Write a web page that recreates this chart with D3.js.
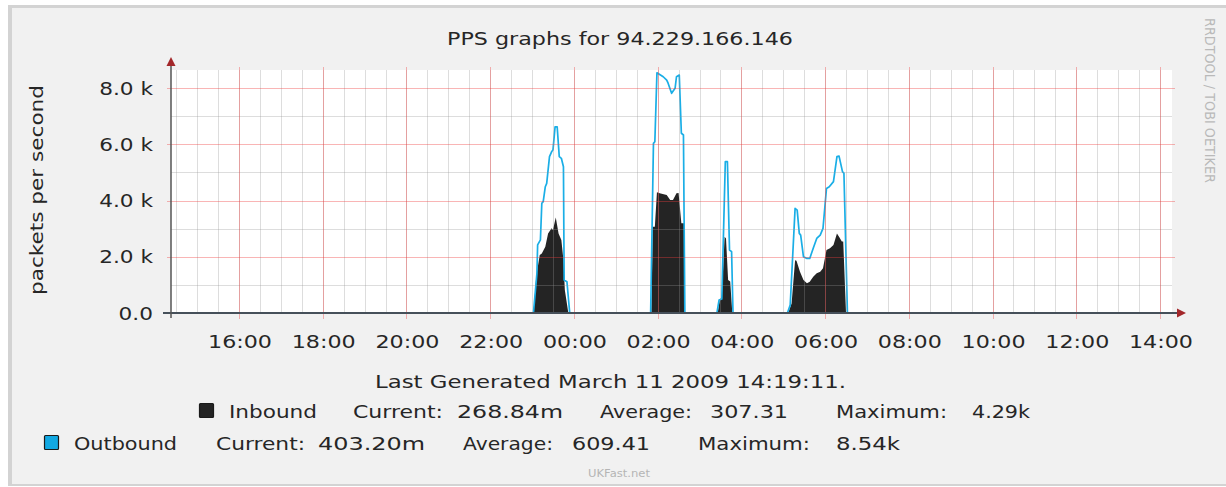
<!DOCTYPE html>
<html><head><meta charset="utf-8">
<script src="https://cdn.jsdelivr.net/npm/d3@7/dist/d3.min.js"></script>
<style>
body{margin:0;background:#fff}
svg{display:block}
text{font-family:"DejaVu Sans",sans-serif}
</style>
</head><body>
<svg id="chart" width="1226" height="487"></svg>
<script>
// ---------- data ----------
const title = "PPS graphs for 94.229.166.146";
const yTickValues = [0, 2000, 4000, 6000, 8000];
const yTickLabels = ["0.0", "2.0 k", "4.0 k", "6.0 k", "8.0 k"];
const yAxisTitle = "packets per second";
const footerText = "Last Generated March 11 2009 14:19:11.";
const sideText = "RRDTOOL / TOBI OETIKER";
const creditText = "UKFast.net";

const outTimes = ["10 14:22","10 23:02","10 23:07","10 23:08","10 23:12","10 23:14","10 23:16","10 23:19","10 23:21","10 23:25","10 23:28","10 23:30","10 23:33","10 23:36","10 23:39","10 23:42","10 23:45","10 23:46","10 23:50","10 23:54",
  "11 01:50","11 01:54","11 01:56","11 01:59","11 02:08","11 02:13","11 02:15","11 02:20","11 02:25","11 02:27","11 02:31","11 02:34","11 02:37","11 02:39",
  "11 03:25","11 03:28","11 03:32","11 03:37","11 03:40","11 03:43","11 03:46","11 03:48",
  "11 05:06","11 05:10","11 05:17","11 05:20","11 05:23","11 05:25","11 05:29","11 05:34","11 05:38","11 05:43","11 05:48","11 05:53","11 05:57","11 06:02","11 06:06","11 06:12","11 06:17","11 06:20","11 06:25","11 06:27","11 06:32","11 14:18"];
const outValues = [0,0,1410,2420,2600,3900,3960,4490,4610,5560,5730,5800,6620,6620,5560,5500,5200,1170,1110,0,
  0,6030,6090,8540,8400,8280,8170,7810,7990,8400,8460,6390,6330,0,
  0,460,500,5380,5380,2240,2180,0,
  0,280,3720,3660,2830,2770,2000,1940,1940,2300,2650,2770,3010,4430,4490,4670,5560,5580,5020,4970,0,0];

const inTimes = ["10 14:22","10 23:02","10 23:06","10 23:11","10 23:14","10 23:19","10 23:23","10 23:28","10 23:30","10 23:34","10 23:38","10 23:42","10 23:45","10 23:47","10 23:52",
  "11 01:51","11 01:53","11 01:56","11 01:59","11 02:03","11 02:13","11 02:18","11 02:22","11 02:27","11 02:30","11 02:34","11 02:38","11 02:39",
  "11 03:26","11 03:29","11 03:32","11 03:36","11 03:38","11 03:41","11 03:44","11 03:47",
  "11 05:07","11 05:12","11 05:17","11 05:19","11 05:24","11 05:29","11 05:34","11 05:38","11 05:43","11 05:48","11 05:53","11 05:57","11 06:02","11 06:07","11 06:12","11 06:17","11 06:20","11 06:24","11 06:26","11 06:30","11 14:18"];
const inValues = [0,0,1290,2060,2120,2360,2830,3010,2950,3400,2830,2600,1880,820,0,
  0,3070,3070,4290,4255,4200,4020,4020,4255,4270,3190,3190,0,
  0,460,580,2710,2650,1170,1120,0,
  0,340,1880,1860,1470,1170,1060,1110,1290,1410,1470,1590,2240,2300,2420,2830,2710,2540,2540,0,0];

const seriesNames = ["Inbound", "Outbound"];
const seriesCurrent = ["268.84m", "403.20m"];
const seriesAverage = ["307.31", "609.41"];
const seriesMaximum = ["4.29k", "8.54k"];
const statLabels = ["Current:", "Average:", "Maximum:"];

// ---------- helpers ----------
const parse = d3.timeParse("%Y-%m-%d %H:%M");
const toDate = s => parse("2009-03-" + s);
const outData = outTimes.map((t, i) => ({t: toDate(t), v: outValues[i]}));
const inData = inTimes.map((t, i) => ({t: toDate(t), v: inValues[i]}));

const svg = d3.select("#chart");
const TXT = "#262626";

function txt(g, str, x, y, o = {}) {
  const el = g.append("text").text(str)
    .attr("x", x).attr("y", y)
    .attr("font-size", o.size || 18)
    .attr("fill", o.color || TXT);
  let w = o.width;
  if (!w) w = el.node().getComputedTextLength() * (o.stretch || 1.2);
  el.attr("textLength", w).attr("lengthAdjust", "spacingAndGlyphs");
  const anchor = o.anchor || "start";
  if (anchor === "middle") el.attr("x", x - w / 2);
  else if (anchor === "end") el.attr("x", x - w);
  if (o.transform) el.attr("transform", o.transform);
  return el;
}

// ---------- frame ----------
svg.append("rect").attr("x", 8).attr("y", 5).attr("width", 1240).attr("height", 481).attr("fill", "#d3d3d3");
svg.append("rect").attr("x", 12).attr("y", 8).attr("width", 1240).attr("height", 476).attr("fill", "#f1f1f1");

// ---------- scales ----------
const L = 171, R = 1172, T = 70, B = 313;
const x = d3.scaleTime()
  .domain([new Date(2009, 2, 10, 14, 22, 32), new Date(2009, 2, 11, 14, 17, 12)])
  .range([L, R]);
const y = d3.scaleLinear().domain([0, 8000]).range([B, 88]);

// plot background
svg.append("rect").attr("x", L).attr("y", T).attr("width", R - L).attr("height", B - T).attr("fill", "#fff");

svg.append("clipPath").attr("id", "clip").append("rect")
  .attr("x", L).attr("y", T - 3).attr("width", R - L).attr("height", B - T + 3);

const plot = svg.append("g").attr("clip-path", "url(#clip)");

// data
plot.append("path").datum(inData)
  .attr("fill", "#242424")
  .attr("d", d3.area().x(d => x(d.t)).y0(y(0)).y1(d => y(d.v)));
plot.append("path").datum(outData)
  .attr("fill", "none").attr("stroke", "#1aaee6").attr("stroke-width", 1.7)
  .attr("stroke-linejoin", "round")
  .attr("d", d3.line().x(d => x(d.t)).y(d => y(d.v)));

// grid (drawn over data, semi-transparent)
const grid = svg.append("g");
const minorX = x.ticks(d3.timeMinute.every(30));
grid.selectAll(".mx").data(minorX).join("line")
  .attr("x1", d => Math.round(x(d)) + 0.5).attr("x2", d => Math.round(x(d)) + 0.5)
  .attr("y1", T).attr("y2", B)
  .attr("stroke", "rgba(150,150,150,0.32)").attr("stroke-width", 1);
const minorY = d3.range(1000, 8001, 1000).filter(v => v % 2000 !== 0);
grid.selectAll(".my").data(minorY).join("line")
  .attr("x1", L).attr("x2", R)
  .attr("y1", d => Math.round(y(d)) + 0.5).attr("y2", d => Math.round(y(d)) + 0.5)
  .attr("stroke", "rgba(150,150,150,0.32)").attr("stroke-width", 1);
const majorX = x.ticks(d3.timeHour.every(2));
grid.selectAll(".Mx").data(majorX).join("line")
  .attr("x1", d => Math.round(x(d)) + 0.5).attr("x2", d => Math.round(x(d)) + 0.5)
  .attr("y1", T - 3).attr("y2", B + 6)
  .attr("stroke", "rgba(240,60,60,0.38)").attr("stroke-width", 1);
grid.selectAll(".My").data(yTickValues.filter(v => v > 0)).join("line")
  .attr("x1", L - 4).attr("x2", R + 3)
  .attr("y1", d => Math.round(y(d)) + 0.5).attr("y2", d => Math.round(y(d)) + 0.5)
  .attr("stroke", "rgba(240,60,60,0.38)").attr("stroke-width", 1);

// axes
svg.append("line").attr("x1", L - 8).attr("x2", R + 6).attr("y1", B).attr("y2", B)
  .attr("stroke", "#46505a").attr("stroke-width", 2);
svg.append("line").attr("x1", L).attr("x2", L).attr("y1", B + 5).attr("y2", 64)
  .attr("stroke", "#555").attr("stroke-width", 1.5);
svg.append("path").attr("d", `M${L - 4.5},66 L${L + 4.5},66 L${L},57 Z`).attr("fill", "#a3272a");
svg.append("path").attr("d", `M${R + 5},${B - 4.5} L${R + 5},${B + 4.5} L${R + 14},${B} Z`).attr("fill", "#a3272a");

// tick labels
yTickValues.forEach((v, i) => txt(svg, yTickLabels[i], 153, y(v) + 6.5, {anchor: "end"}));
const fmt = d3.timeFormat("%H:%M");
majorX.forEach(d => txt(svg, fmt(d), x(d) + 1, 348, {anchor: "middle", width: 64}));

// titles
txt(svg, title, 620, 45, {anchor: "middle", width: 346});
txt(svg, yAxisTitle, 0, 0, {anchor: "middle", width: 210, transform: "translate(43,190) rotate(-90)"});
txt(svg, sideText, 0, 0, {size: 14, width: 165, color: "#b9b9b9", transform: "translate(1205,18) rotate(90)"});
txt(svg, footerText, 375, 388, {width: 471});
txt(svg, creditText, 588, 477, {size: 11, width: 62, color: "#b5b5b5"});

// legend
const legendLayout = [
  {y: 418, sq: 199, name: [229, 88], cur: [353, 90], curv: [457, 106], avg: [600, 92], avgv: [710, 78], max: [836, 111], maxv: [972, 58]},
  {y: 450, sq: 44, name: [74, 103], cur: [216, 89], curv: [318, 107], avg: [463, 90], avgv: [572, 78], max: [698, 112], maxv: [836, 64]}
];
const legendColors = ["#242424", "#12a8e2"];
legendLayout.forEach((p, i) => {
  svg.append("rect").attr("x", p.sq + 0.5).attr("y", p.y - 14.5).attr("width", 14).attr("height", 14)
    .attr("fill", legendColors[i]).attr("stroke", "#1a1a1a").attr("stroke-width", 1.2).attr("rx", 1);
  txt(svg, seriesNames[i], p.name[0], p.y, {width: p.name[1]});
  txt(svg, statLabels[0], p.cur[0], p.y, {width: p.cur[1]});
  txt(svg, seriesCurrent[i], p.curv[0], p.y, {width: p.curv[1]});
  txt(svg, statLabels[1], p.avg[0], p.y, {width: p.avg[1]});
  txt(svg, seriesAverage[i], p.avgv[0], p.y, {width: p.avgv[1]});
  txt(svg, statLabels[2], p.max[0], p.y, {width: p.max[1]});
  txt(svg, seriesMaximum[i], p.maxv[0], p.y, {width: p.maxv[1]});
});
</script>
</body></html>
